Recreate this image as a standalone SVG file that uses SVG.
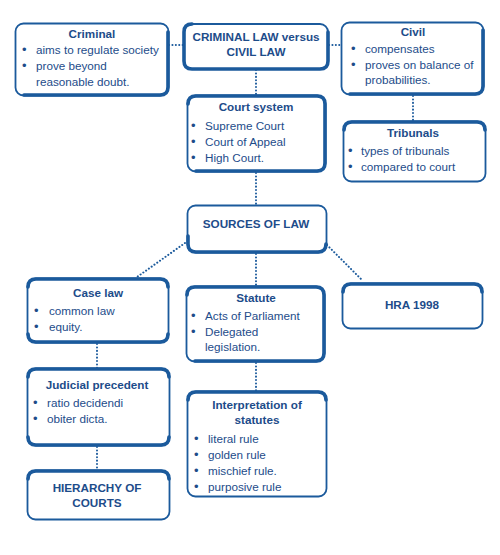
<svg xmlns="http://www.w3.org/2000/svg" width="500" height="555" viewBox="0 0 500 555">
<style>
  .box{fill:#ffffff;stroke:#1b5a9c;stroke-width:1.8}
  .thk{fill:none;stroke:#1b5a9c;stroke-width:3.6;stroke-linecap:round}
  .conn{fill:none;stroke:#1b5a9c;stroke-width:2;stroke-dasharray:0.1 3.3;stroke-linecap:round}
  text{font-family:"Liberation Sans",Arial,sans-serif;font-size:11.7px;fill:#1d4c8a}
  .t{font-weight:bold;text-anchor:middle}
  .b{font-size:13px}
</style>
<rect width="500" height="555" fill="#ffffff"/>
<g id="connectors">
  <path class="conn" d="M169 45 H183"/>
  <path class="conn" d="M329 45 H341"/>
  <path class="conn" d="M413 96 V121"/>
  <path class="conn" d="M256 70 V95"/>
  <path class="conn" d="M256 173 V205"/>
  <path class="conn" d="M185 243 L137 277"/>
  <path class="conn" d="M256 254 V286"/>
  <path class="conn" d="M327 245 L363 281"/>
  <path class="conn" d="M97 344 V368"/>
  <path class="conn" d="M97 447 V470"/>
  <path class="conn" d="M256 363 V391"/>
</g>
<g id="criminal">
  <rect class="box" x="15.5" y="23.5" width="153" height="72" rx="8"/>
  <path class="thk" d="M168 32 V87 Q168 95 160 95 H24"/>
  <text class="t" x="92" y="38">Criminal</text>
  <text x="22" y="54" class="b">•</text><text x="36" y="54">aims to regulate society</text>
  <text x="22" y="70" class="b">•</text><text x="36" y="70">prove beyond</text>
  <text x="36" y="86">reasonable doubt.</text>
</g>
<g id="criminal-vs-civil">
  <rect class="box" x="184" y="24" width="144" height="45" rx="8"/>
  <path class="thk" d="M192 24 Q184 24 184 32 V61 Q184 69 192 69 H320 Q328 69 328 61 V32"/>
  <text class="t" x="256" y="41">CRIMINAL LAW versus</text>
  <text class="t" x="256" y="56">CIVIL LAW</text>
</g>
<g id="civil">
  <rect class="box" x="341.5" y="22.5" width="142" height="72" rx="8"/>
  <path class="thk" d="M483 30 V86 Q483 94 475 94 H350"/>
  <text class="t" x="413" y="36">Civil</text>
  <text x="351" y="53" class="b">•</text><text x="365" y="53">compensates</text>
  <text x="351" y="69" class="b">•</text><text x="365" y="69">proves on balance of</text>
  <text x="365" y="84">probabilities.</text>
</g>
<g id="court-system">
  <rect class="box" x="187.5" y="95.5" width="138" height="76" rx="8"/>
  <path class="thk" d="M188 104 Q188 96 196 96 H317 Q325 96 325 104 V163 Q325 171 317 171 H196"/>
  <text class="t" x="256" y="111">Court system</text>
  <text x="191" y="130" class="b">•</text><text x="205" y="130">Supreme Court</text>
  <text x="191" y="146" class="b">•</text><text x="205" y="146">Court of Appeal</text>
  <text x="191" y="162" class="b">•</text><text x="205" y="162">High Court.</text>
</g>
<g id="tribunals">
  <rect class="box" x="343.5" y="121.5" width="142" height="60" rx="8"/>
  <path class="thk" d="M344 130 Q344 122 352 122 H477 Q485 122 485 130"/>
  <text class="t" x="413" y="137">Tribunals</text>
  <text x="348" y="155" class="b">•</text><text x="361" y="155">types of tribunals</text>
  <text x="348" y="171" class="b">•</text><text x="361" y="171">compared to court</text>
</g>
<g id="sources-of-law">
  <rect class="box" x="187.5" y="205.5" width="139" height="47" rx="8"/>
  <path class="thk" d="M188 236 V244 Q188 252 196 252 H318 Q326 252 326 244"/>
  <text class="t" x="256" y="228">SOURCES OF LAW</text>
</g>
<g id="case-law">
  <rect class="box" x="27.5" y="278.5" width="141" height="64" rx="8"/>
  <path class="thk" d="M28 287 Q28 279 36 279 H160 Q168 279 168 287 M28 334 Q28 342 36 342 H160 Q168 342 168 334"/>
  <text class="t" x="98" y="297">Case law</text>
  <text x="34" y="315" class="b">•</text><text x="49" y="315">common law</text>
  <text x="34" y="331" class="b">•</text><text x="49" y="331">equity.</text>
</g>
<g id="statute">
  <rect class="box" x="186.5" y="286.5" width="138" height="75" rx="8"/>
  <path class="thk" d="M187 295 Q187 287 195 287 H316 Q324 287 324 295 V353 Q324 361 316 361 H195"/>
  <text class="t" x="256" y="302">Statute</text>
  <text x="191" y="320" class="b">•</text><text x="205" y="320">Acts of Parliament</text>
  <text x="191" y="336" class="b">•</text><text x="205" y="336">Delegated</text>
  <text x="205" y="351">legislation.</text>
</g>
<g id="hra-1998">
  <rect class="box" x="342.5" y="283.5" width="140" height="45" rx="8"/>
  <path class="thk" d="M343 292 Q343 284 351 284 H474 Q482 284 482 292"/>
  <text class="t" x="412" y="309">HRA 1998</text>
</g>
<g id="judicial-precedent">
  <rect class="box" x="27.5" y="368.5" width="142" height="77" rx="8"/>
  <path class="thk" d="M28 377 Q28 369 36 369 H161 Q169 369 169 377 M28 437 Q28 445 36 445 H161 Q169 445 169 437"/>
  <text class="t" x="97" y="389">Judicial precedent</text>
  <text x="33" y="407" class="b">•</text><text x="47" y="407">ratio decidendi</text>
  <text x="33" y="423" class="b">•</text><text x="47" y="423">obiter dicta.</text>
</g>
<g id="hierarchy-of-courts">
  <rect class="box" x="27.5" y="470.5" width="142" height="49" rx="8"/>
  <path class="thk" d="M28 479 Q28 471 36 471 H161 Q169 471 169 479"/>
  <text class="t" x="97" y="492">HIERARCHY OF</text>
  <text class="t" x="97" y="507">COURTS</text>
</g>
<g id="interpretation-of-statutes">
  <rect class="box" x="187.5" y="391.5" width="139" height="105" rx="8"/>
  <path class="thk" d="M188 400 Q188 392 196 392 H318 Q326 392 326 400"/>
  <text class="t" x="257" y="409">Interpretation of</text>
  <text class="t" x="257" y="424">statutes</text>
  <text x="194" y="443" class="b">•</text><text x="208" y="443">literal rule</text>
  <text x="194" y="459" class="b">•</text><text x="208" y="459">golden rule</text>
  <text x="194" y="475" class="b">•</text><text x="208" y="475">mischief rule.</text>
  <text x="194" y="491" class="b">•</text><text x="208" y="491">purposive rule</text>
</g>
</svg>
